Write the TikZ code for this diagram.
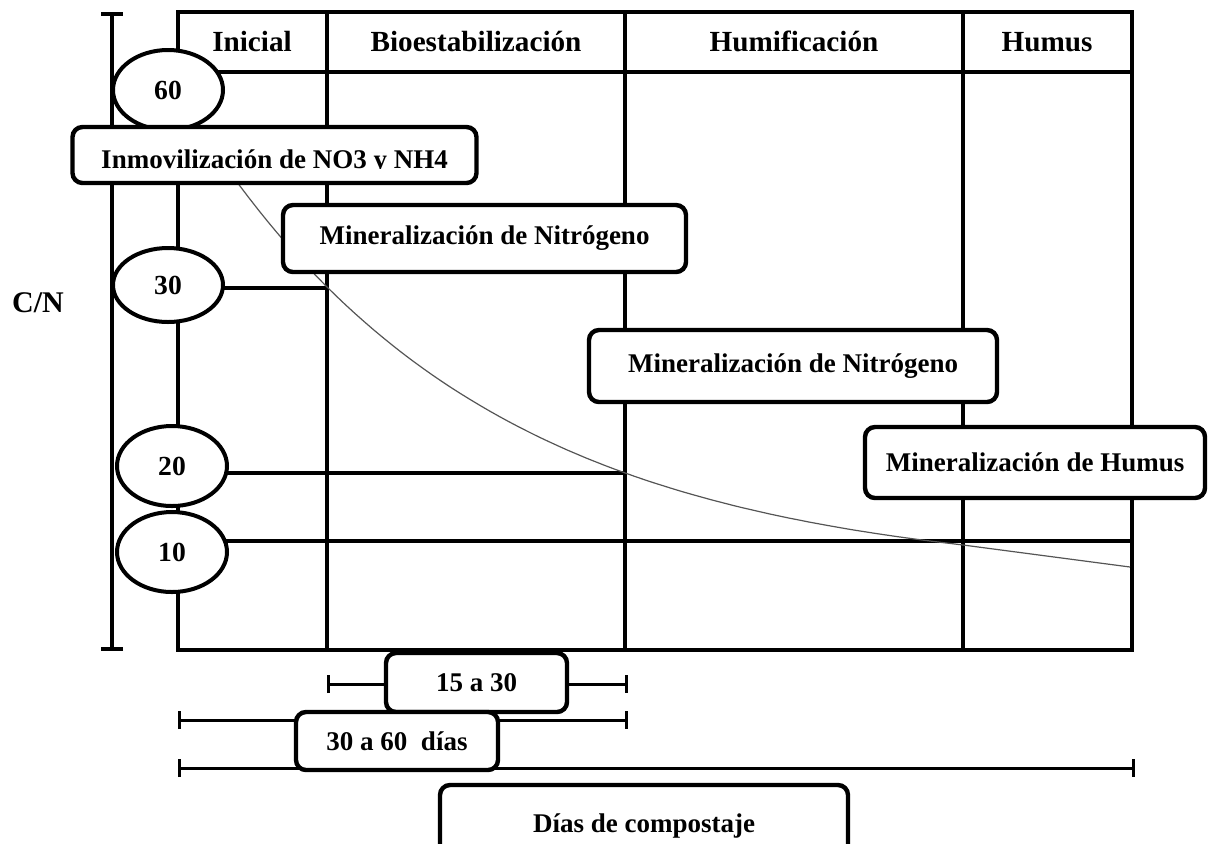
\documentclass[tikz,border=0pt]{standalone}
\usepackage{fontspec}
\setmainfont{Liberation Serif}
\usetikzlibrary{shapes.geometric,arrows.meta}
\definecolor{curveGray}{RGB}{85,85,85}
\tikzset{
  gridline/.style={line width=2pt},
  levelline/.style={line width=1.6pt},
  headtext/.style={font=\bfseries\fontsize{14.6}{16}\selectfont,text height=10pt,text depth=3pt},
  valueoval/.style={ellipse,draw,fill=white,line width=2pt,minimum width=55pt,minimum height=40pt,inner sep=0pt,font=\bfseries\fontsize{13.8}{15}\selectfont},
  phasebox/.style={rounded corners=5pt,draw,fill=white,line width=2.2pt,inner sep=0pt,font=\bfseries\fontsize{13.5}{15}\selectfont},
  spanline/.style={line width=1.5pt,arrows={Bar[width=9pt]-Bar[width=9pt]}},
}
\begin{document}
\begin{tikzpicture}[x=0.5pt,y=-0.5pt]
\useasboundingbox (0,0) rectangle (1209,843);

% eje C/N
\coordinate (axtop) at (112,12);
\coordinate (axbot) at (112,651);
\draw[line width=2pt,arrows={Bar[width=11pt]-Bar[width=11pt]}] (axtop) -- (axbot);
\node[headtext,font=\bfseries\fontsize{15}{17}\selectfont] (cn) at (38,305) {C/N};

% tabla de fases
\draw[gridline] (178,12) rectangle (1132,650);
\draw[gridline] (178,72) -- (1132,72);
\foreach \cx in {327,625,963}
  \draw[gridline] (\cx,12) -- (\cx,650);
\node[headtext] (hIni) at (252,44) {Inicial};
\node[headtext] (hBio) at (476,44) {Bioestabilización};
\node[headtext] (hHum) at (794,44) {Humificación};
\node[headtext] (hHus) at (1047,44) {Humus};

% niveles C/N
\draw[levelline] (172,288) -- (327,288);
\draw[levelline] (172,473) -- (625,473);
\draw[levelline] (172,541) -- (1132,541);

% curva de descenso
\draw[curveGray,line width=0.6pt] plot[domain=200:963,samples=80] (\x,{578-890*exp(-0.00342*\x)}) -- (1130,567);

\node[valueoval] (v60) at (168,90) {60};
\node[valueoval,minimum height=37pt] (v30) at (168,285) {30};
\node[valueoval] (v20) at (172,466) {20};
\node[valueoval] (v10) at (172,552) {10};

% procesos
\node[phasebox,minimum width=202pt,minimum height=28pt] (inmov) at (274.5,155) {};
\begin{scope}
  \clip (80,131) rectangle (470,168);
  \node[font=\bfseries\fontsize{13.5}{15}\selectfont,anchor=base] (inmovtxt) at (274.5,168) {Inmovilización de NO3 y NH4};
\end{scope}
\node[phasebox,minimum width=201.5pt,minimum height=33.5pt] (minN1) at (484.5,238.5) {Mineralización de Nitrógeno};
\node[phasebox,minimum width=204pt,minimum height=36pt] (minN2) at (793,366) {Mineralización de Nitrógeno};
\node[phasebox,minimum width=170pt,minimum height=35.5pt] (minH) at (1035,462.5) {Mineralización de Humus};

% duraciones
\coordinate (s1a) at (327,684);
\coordinate (s1b) at (628,684);
\coordinate (s2a) at (178,720);
\coordinate (s2b) at (628,720);
\coordinate (s3a) at (178,768);
\coordinate (s3b) at (1135,768);
\draw[spanline] (s1a) -- (s1b);
\draw[spanline] (s2a) -- (s2b);
\draw[spanline] (s3a) -- (s3b);
\node[phasebox,minimum width=90.5pt,minimum height=29.5pt] (d15) at (476.5,682.5) {15 a 30};
\node[phasebox,minimum width=101pt,minimum height=29pt] (d30) at (397,741) {30 a 60\ \ días};
\node[phasebox,minimum width=204pt,minimum height=41pt] (dias) at (644,826) {Días de compostaje};
\end{tikzpicture}
\end{document}
